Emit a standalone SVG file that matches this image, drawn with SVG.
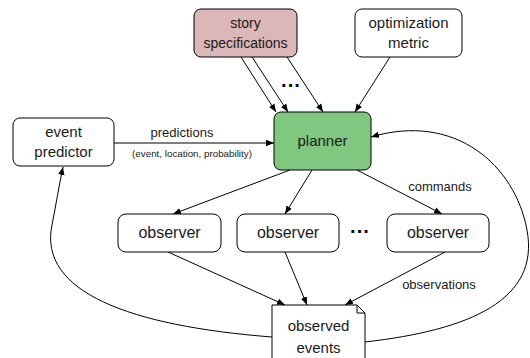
<svg xmlns="http://www.w3.org/2000/svg" width="530" height="358" viewBox="0 0 530 358">
<style>
.box{fill:#fff;stroke:#000;stroke-width:1}
.t{font-family:"Liberation Sans",Arial,sans-serif;font-size:15px;fill:#1a1a1a;text-anchor:middle}
.l{font-family:"Liberation Sans",Arial,sans-serif;font-size:13px;fill:#1a1a1a;text-anchor:middle}
.c{fill:none;stroke:#000;stroke-width:1;marker-end:url(#ah)}
.dots{font-family:"Liberation Sans",Arial,sans-serif;font-size:20px;font-weight:bold;fill:#000;text-anchor:middle}
</style>
<defs>
<marker id="ah" viewBox="0 0 10 10" refX="10" refY="5" markerWidth="8" markerHeight="8" markerUnits="userSpaceOnUse" orient="auto">
<path d="M0,1 L10,5 L0,9 z" fill="#000"/>
</marker>
</defs>
<rect width="530" height="358" fill="#fff"/>
<g id="connectors">
<line class="c" x1="241" y1="57" x2="276" y2="112"/>
<line class="c" x1="252" y1="57" x2="288" y2="112"/>
<line class="c" x1="287" y1="57" x2="323" y2="112"/>
<line class="c" x1="390" y1="57" x2="355" y2="112"/>
<line class="c" x1="114" y1="143" x2="274" y2="143"/>
<line class="c" x1="290" y1="170" x2="173" y2="214"/>
<line class="c" x1="312" y1="170" x2="285" y2="214"/>
<line class="c" x1="357" y1="170" x2="442" y2="214"/>
<line class="c" x1="168" y1="252" x2="285" y2="305"/>
<line class="c" x1="285" y1="252" x2="307" y2="305"/>
<line class="c" x1="445" y1="252" x2="345" y2="305"/>
<path class="c" d="M272,337 C130,326 38,292 52,225 C56,205 59,185 63,167"/>
<path class="c" d="M365,342 C470,330 540,300 527,230 C515,165 455,112 371,137"/>
<text class="l" x="182" y="137">predictions</text>
<text class="l" x="192" y="157" style="font-size:9.8px">(event, location, probability)</text>
<text class="l" x="440" y="191">commands</text>
<text class="l" x="439" y="289">observations</text>
<text class="dots" x="291" y="92">···</text>
<text class="dots" x="360" y="238">···</text>
</g>
<g id="story">
<rect x="194" y="9" width="103" height="48" rx="7" fill="#dbb7b7" stroke="#000"/>
<text class="t" x="245.5" y="28" style="font-size:14px">story</text>
<text class="t" x="245.5" y="48" style="font-size:14px">specifications</text>
</g>
<g id="metric">
<rect class="box" x="355" y="9" width="107" height="48" rx="7"/>
<text class="t" x="408.5" y="28">optimization</text>
<text class="t" x="408.5" y="48">metric</text>
</g>
<g id="predictor">
<rect class="box" x="13" y="118" width="101" height="48" rx="7"/>
<text class="t" x="63.5" y="137">event</text>
<text class="t" x="63.5" y="157">predictor</text>
</g>
<g id="planner">
<rect x="274" y="112" width="97" height="58" rx="7" fill="#80c77f" stroke="#000"/>
<text class="t" x="322.5" y="146">planner</text>
</g>
<g id="observer1">
<rect class="box" x="118" y="214" width="103" height="38" rx="8"/>
<text class="t" x="169.5" y="238" style="font-size:16px">observer</text>
</g>
<g id="observer2">
<rect class="box" x="237" y="214" width="102" height="38" rx="8"/>
<text class="t" x="288" y="238" style="font-size:16px">observer</text>
</g>
<g id="observer3">
<rect class="box" x="387" y="214" width="102" height="38" rx="8"/>
<text class="t" x="438" y="238" style="font-size:16px">observer</text>
</g>
<g id="observed">
<path class="box" d="M272,305 L357,305 L365,313 L365,362 L272,362 Z"/>
<path d="M357,305 L357,313 L365,313" fill="none" stroke="#000" stroke-width="1"/>
<text class="t" x="318.5" y="331">observed</text>
<text class="t" x="318.5" y="353">events</text>
</g>
</svg>
